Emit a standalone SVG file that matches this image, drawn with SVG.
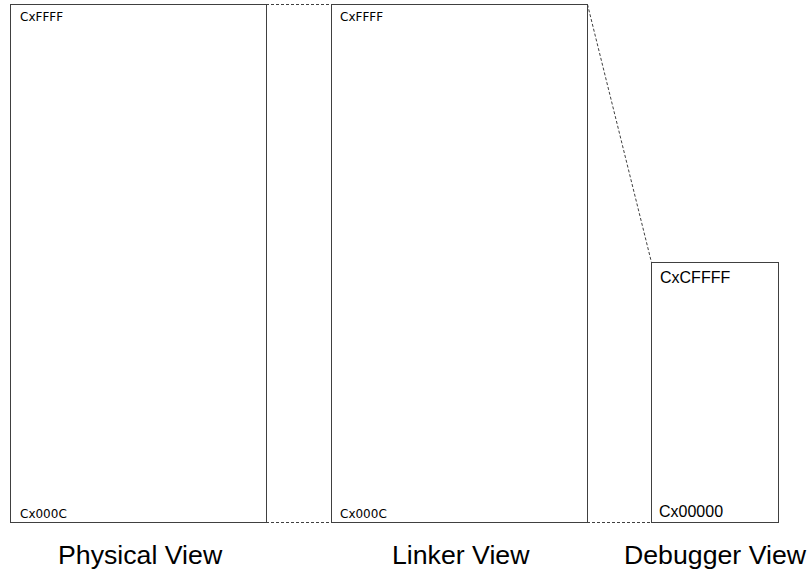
<svg xmlns="http://www.w3.org/2000/svg" width="810" height="574" viewBox="0 0 810 574">
<style>
.box{fill:#fff;stroke:#404040;stroke-width:1}
.dash{fill:none;stroke:#404040;stroke-width:1;stroke-dasharray:3,2}
.small{font-family:"DejaVu Sans",sans-serif;font-size:12px;fill:#000}
.mid{font-family:"Liberation Sans",Arial,sans-serif;font-size:16px;fill:#000}
.label{font-family:"Liberation Sans",Arial,sans-serif;font-size:26.7px;fill:#000}
</style>
<rect width="810" height="574" fill="#fff"/>
<g id="connectors">
<line class="dash" x1="266" y1="4.5" x2="331" y2="4.5"/>
<line class="dash" x1="266" y1="522.5" x2="331" y2="522.5"/>
<line class="dash" x1="587" y1="522.5" x2="651" y2="522.5"/>
<line class="dash" x1="587.5" y1="4.5" x2="651.5" y2="262.5"/>
</g>
<g id="physical">
<rect class="box" x="10.5" y="4.5" width="256" height="518"/>
<text class="small" x="20" y="21">CxFFFF</text>
<text class="small" x="20" y="518">Cx000C</text>
<text class="label" x="58" y="564">Physical View</text>
</g>
<g id="linker">
<rect class="box" x="331.5" y="4.5" width="256" height="518"/>
<text class="small" x="340" y="21">CxFFFF</text>
<text class="small" x="340" y="518">Cx000C</text>
<text class="label" x="392" y="564">Linker View</text>
</g>
<g id="debugger">
<rect class="box" x="651.5" y="262.5" width="127" height="260"/>
<text class="mid" x="660" y="283">CxCFFFF</text>
<text class="mid" x="659" y="517">Cx00000</text>
<text class="label" x="624" y="564">Debugger View</text>
</g>
</svg>
